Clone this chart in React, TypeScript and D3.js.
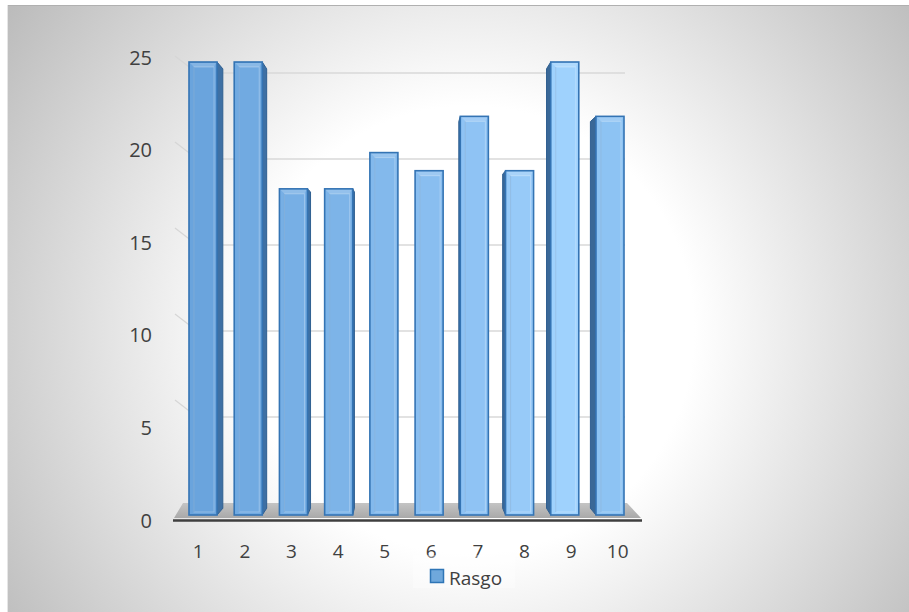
import React from "react";
import * as d3 from "d3";

const categories: string[] = ["1", "2", "3", "4", "5", "6", "7", "8", "9", "10"];
const rasgo: number[] = [25, 25, 18, 18, 20, 19, 22, 19, 25, 22];
const yTicks: number[] = [0, 5, 10, 15, 20, 25];
const gridTicks: number[] = [5, 10, 15, 20, 25];
const seriesName = "Rasgo";

const W = 909;
const H = 612;

export default function App() {
  const xLabel = d3.scaleBand<string>().domain(categories).range([175, 641]);
  const xBar = d3.scaleBand<string>().domain(categories).range([180.4, 632.6]).paddingInner(0.38).paddingOuter(0.19);
  const yFront = d3.scaleLinear().domain([0, 25]).range([515, 62]);
  const yBack = d3.scaleLinear().domain([0, 25]).range([503, 73]);
  const yLabel = d3.scaleLinear().domain([0, 25]).range([520, 57]);
  const colorAt = d3
    .scaleLinear<string>()
    .domain([200, 480, 567, 612])
    .range(["#6aa4dd", "#90c4f4", "#9fd2fd", "#8cc2f3"])
    .clamp(true);

  const vpX = 410;
  const vpY = 290;
  const k = 0.03;
  const toBack = (x: number, y: number): [number, number] => [x + (vpX - x) * k, y + (vpY - y) * k];

  const line = d3.line();

  const bars = categories.map((c, i) => {
    const x0 = xBar(c)!;
    const bw = xBar.bandwidth();
    const x1 = x0 + bw;
    const yt = yFront(rasgo[i]);
    const yb = yFront(0);
    const cx = x0 + bw / 2;
    const fill = colorAt(cx);
    let side: [number, number][] | null = null;
    let sideFill = "#3d6fa3";
    if (cx < vpX - 30) {
      const bt = toBack(x1, yt);
      const bb = toBack(x1, yb);
      side = [[x1, yt], bt, bb, [x1, yb]];
      sideFill = "#3e70a4";
    } else if (cx > vpX + 30) {
      const bt = toBack(x0, yt);
      const bb = toBack(x0, yb);
      side = [[x0, yt], bt, bb, [x0, yb]];
      sideFill = "#3a6897";
    }
    return { c, x0, x1, bw, yt, yb, fill, side, sideFill };
  });

  const floor: [number, number][] = [
    [183, 503],
    [627, 503],
    [641, 518],
    [174, 518],
  ];

  const font = "'Open Sans', sans-serif";
  const textColor = "#404040";

  return (
    <div style={{ position: "fixed", left: 0, top: 0 }}>
      <svg width={W} height={H} xmlns="http://www.w3.org/2000/svg" style={{ display: "block" }}>
        <defs>
          <radialGradient id="bg" gradientUnits="userSpaceOnUse" cx={470} cy={330} r={560}>
            <stop offset="0" stopColor="#ffffff" />
            <stop offset="0.4" stopColor="#ffffff" />
            <stop offset="1" stopColor="#bcbcbc" />
          </radialGradient>
          <linearGradient id="floorG" x1="0" x2="0" y1="0" y2="1">
            <stop offset="0" stopColor="#c4c4c4" />
            <stop offset="1" stopColor="#a9a9a9" />
          </linearGradient>
        </defs>
        <rect x={0} y={0} width={W} height={H} fill="#ffffff" />
        <rect x={7} y={5} width={W - 7} height={H - 5} fill="url(#bg)" />
        <line x1={7} x2={W} y1={5.5} y2={5.5} stroke="#b0b0b0" strokeWidth={1} />
        <line x1={7.5} x2={7.5} y1={5} y2={H} stroke="#e6e6e6" strokeWidth={1} />

        <g>
          {gridTicks.map((t) => (
            <g key={t}>
              <path
                d={line([
                  [175, yBack(t) - 17],
                  [197, yBack(t)],
                ])!}
                stroke="#d6d6d6"
                strokeWidth={1.2}
                fill="none"
              />
              <line x1={197} x2={625} y1={yBack(t)} y2={yBack(t)} stroke="#d9d9d9" strokeWidth={1.5} />
            </g>
          ))}
        </g>

        <path d={line(floor)! + "Z"} fill="url(#floorG)" />
        <line x1={173} x2={642} y1={520.5} y2={520.5} stroke="#3f3f3f" strokeWidth={2.5} />

        <g>
          {bars.map((b) => (
            <g key={b.c}>
              {b.side && (
                <path d={line(b.side)! + "Z"} fill={b.sideFill} stroke="#2f5f91" strokeWidth={1} />
              )}
              <rect x={b.x0} y={b.yt} width={b.bw} height={b.yb - b.yt} fill={b.fill} stroke="#3474b4" strokeWidth={1.6} />
              <path
                d={line([
                  [b.x0 + 1, b.yt + 1],
                  [b.x1 - 1, b.yt + 1],
                  [b.x1 - 3, b.yt + 5],
                  [b.x0 + 5, b.yt + 5],
                ])! + "Z"}
                fill="#ffffff"
                opacity={0.18}
              />
              <rect
                x={b.x0 + 5}
                y={b.yt + 5}
                width={b.bw - 8}
                height={b.yb - b.yt - 8}
                fill="none"
                stroke="#ffffff"
                strokeOpacity={0.28}
                strokeWidth={1}
              />
              <line x1={b.x0 + 5} x2={b.x0 + 5} y1={b.yt + 5} y2={b.yb - 3} stroke="#2f6fb0" strokeOpacity={0.25} />
            </g>
          ))}
        </g>

        <g fontFamily={font} fontSize={20} fill={textColor}>
          {yTicks.map((t) => (
            <text key={t} x={152} y={yLabel(t)} textAnchor="end" dominantBaseline="central">
              {t}
            </text>
          ))}
        </g>

        <g fontFamily={font} fontSize={19} fill={textColor}>
          {categories.map((c) => (
            <text key={c} x={xLabel(c)! + xLabel.bandwidth() / 2} y={551} textAnchor="middle" dominantBaseline="central">
              {c}
            </text>
          ))}
        </g>

        <rect x={413} y={555} width={102} height={33} fill="#ffffff" opacity={0.35} />
        <rect x={430.5} y={569.5} width={13} height={13} fill="#6fa8dc" stroke="#2e75b6" strokeWidth={1.5} />
        <text x={449} y={577.5} fontFamily={font} fontSize={19} fill={textColor} dominantBaseline="central">
          {seriesName}
        </text>
      </svg>
    </div>
  );
}
